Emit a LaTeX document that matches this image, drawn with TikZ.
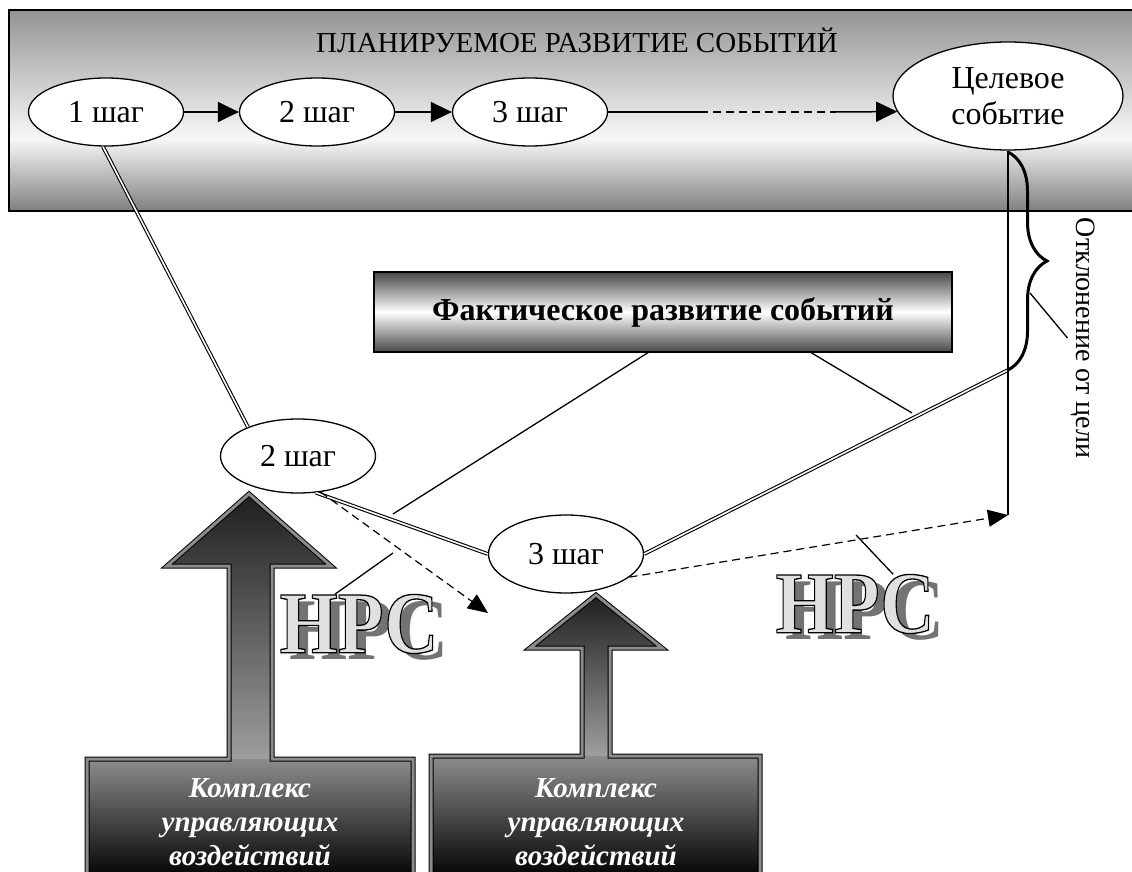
\documentclass[tikz,border=0pt]{standalone}
\usepackage{fontspec}
\setmainfont{Liberation Serif}
\usetikzlibrary{shapes.geometric,arrows.meta,decorations.pathreplacing}

\pgfdeclareverticalshading{bandshade}{100bp}{color(0bp)=(black!50); color(25bp)=(black!50); color(43bp)=(black!3); color(75bp)=(black!42); color(100bp)=(black!42)}

\newcommand{\nrctext}{\scalebox{0.85}[1]{НРС}}
\newcommand{\nrclabel}[2]{%
  \node[nrc,text=black!55,xshift=10pt,yshift=-7pt] at (#2) {\nrctext};
  \node[nrc,text=black!12] (#1) at (#2)
    {\special{pdf:literal direct 2 Tr 1.3 w 0 0 0 RG}\nrctext\special{pdf:literal direct 0 Tr}};}

\begin{document}
\begin{tikzpicture}[x=1pt,y=-1pt,
    shag/.style={draw,ellipse,fill=white,line width=1.3pt,inner sep=0pt,
      minimum width=155pt,minimum height=68pt,font=\fontsize{32}{36}\selectfont},
    link/.style={line width=1.1pt,double,double distance=1.6pt},
    pointer/.style={line width=1.3pt},
    flow/.style={line width=1.5pt,-{Triangle[length=21pt,width=20pt]}},
    miss/.style={line width=1.2pt,dash pattern=on 8pt off 5pt,-{Triangle[length=20pt,width=17pt]}},
    nrc/.style={inner sep=0pt,font=\fontsize{88}{88}\bfseries},
    kompl/.style={align=center,text=white,font=\fontsize{29}{34}\bfseries\itshape},
    bigarrow/.style={draw,line width=1pt,double=black!45,double distance=3pt}]

\useasboundingbox (0,0) rectangle (1132,872);
\clip (0,0) rectangle (1132,872);

% planned development
\shade[shading=bandshade] (9,10) rectangle (1140,211);
\draw[line width=2pt] (1140,10) -- (9,10) -- (9,211) -- (1140,211);
\node[font=\fontsize{29}{29}\selectfont] (plan) at (577,40) {ПЛАНИРУЕМОЕ РАЗВИТИЕ СОБЫТИЙ};

\node[shag] (s1) at (106,112) {1 шаг};
\node[shag] (s2) at (317,112) {2 шаг};
\node[shag] (s3) at (530,112) {3 шаг};
\node[shag,minimum width=230pt,minimum height=108pt,align=center] (goal) at (1008,96) {Целевое\\событие};

\draw[flow] (s1) -- (s2);
\draw[flow] (s2) -- (s3);
\coordinate (d1) at (700,112);
\coordinate (d2) at (836,112);
\draw[line width=1.5pt] (s3) -- (d1);
\draw[line width=1.5pt,dash pattern=on 8pt off 5pt] (d1) -- (d2);
\draw[flow] (d2) -- (goal.188);

% actual development
\node[draw,line width=1.5pt,top color=black!72,bottom color=black!72,middle color=white,
  minimum width=578pt,minimum height=80pt,font=\fontsize{32}{32}\bfseries] (fact) at (663,312) {Фактическое развитие событий};

% control actions
\shade[top color=black!88,bottom color=black!38] (249,494) -- (331,566) -- (272,566) -- (272,759) -- (229,759) -- (229,566) -- (167,566) -- cycle;
\shade[top color=black!45,bottom color=black] (87,759) rectangle (413,880);
\draw[bigarrow] (87,880) -- (87,759) -- (229,759) -- (229,566) -- (167,566) -- (249,494) -- (331,566) -- (272,566) -- (272,759) -- (413,759) -- (413,880);
\shade[top color=black!88,bottom color=black!38] (596,595) -- (662,648) -- (610,648) -- (610,756) -- (582,756) -- (582,648) -- (530,648) -- cycle;
\shade[top color=black!45,bottom color=black] (431,756) rectangle (760,880);
\draw[bigarrow] (431,880) -- (431,756) -- (582,756) -- (582,648) -- (530,648) -- (596,595) -- (662,648) -- (610,648) -- (610,756) -- (760,756) -- (760,880);
\node[kompl] (k1) at (250,822) {Комплекс\\управляющих\\воздействий};
\node[kompl] (k2) at (596,822) {Комплекс\\управляющих\\воздействий};

\node[shag,minimum height=74pt] (f2) at (298,456) {2 шаг};
\node[shag,minimum height=78pt] (f3) at (566,554) {3 шаг};

\coordinate (bt) at (1008,152);
\coordinate (bb) at (1008,370);
\coordinate (dev) at (1008,515);
\coordinate (lost) at (488,613);
\draw[link] (s1.265) -- (f2.150);
\draw[link] (f2.296) -- (f3.west);
\draw[link] (f3.east) -- (bb);
\draw[miss] (f2.302) -- (lost);
\draw[miss] (f3.-20) -- (dev);
\draw[pointer] (goal.south) -- (dev);
\draw[line width=3pt,decorate,decoration={brace,amplitude=39pt}] (bt) -- (bb);

% deviation
\node[rotate=-90,font=\fontsize{28}{28}\selectfont] (dlab) at (1083,338) {Отклонение от цели};
\coordinate (bm) at (1030,293);
\draw[pointer] (bm) -- (dlab.south);

% callouts
\nrclabel{nrc1}{359,624}
\nrclabel{nrc2}{855,604}
\coordinate (fa) at (649,352);
\coordinate (ha) at (393,514);
\coordinate (fb) at (810,352);
\coordinate (hb) at (912,413);
\coordinate (na) at (393,553);
\coordinate (nb) at (856,535);
\draw[pointer] (fa) -- (ha);
\draw[pointer] (fb) -- (hb);
\draw[pointer] (na) -- (nrc1.129);
\draw[pointer] (nb) -- (nrc2.38);
\end{tikzpicture}
\end{document}
